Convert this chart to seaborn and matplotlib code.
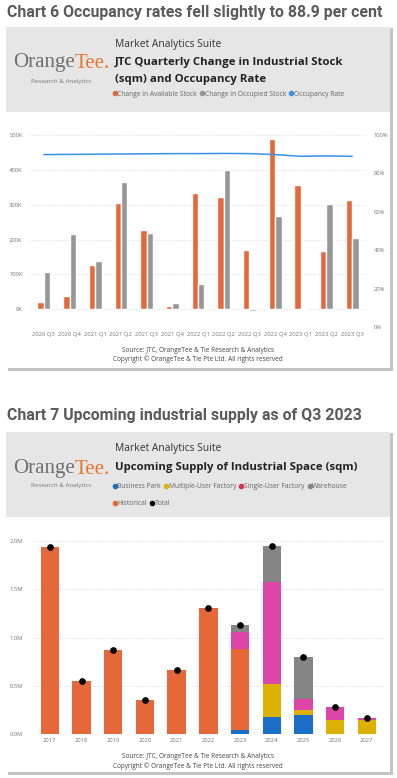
import numpy as np
import pandas as pd
import seaborn as sns
import matplotlib.pyplot as plt
from matplotlib.patches import Rectangle
from matplotlib.lines import Line2D
from matplotlib.ticker import FuncFormatter

# ---- Chart 6 data (sqm, thousands) ----
quarters = ['2020 Q3', '2020 Q4', '2021 Q1', '2021 Q2', '2021 Q3', '2021 Q4', '2022 Q1',
            '2022 Q2', '2022 Q3', '2022 Q4', '2023 Q1', '2023 Q2', '2023 Q3']
avail_k = [22, 38, 126, 304, 228, 10, 333, 322, 171, 487, 357, 167, 313]
occup_k = [108, 215, 139, 366, 220, 18, 72, 400, -6, 268, 4, 303, 204]
occ_rate = [89.8, 89.9, 90.0, 90.1, 90.2, 90.3, 90.3, 90.4, 90.3, 89.8, 88.9, 89.1, 88.9]

# ---- Chart 7 data (sqm, millions) ----
years = ['2017', '2018', '2019', '2020', '2021', '2022', '2023', '2024', '2025', '2026', '2027']
business_park = [0, 0, 0, 0, 0, 0, 0.04, 0.18, 0.20, 0, 0]
multi_user = [0, 0, 0, 0, 0, 0, 0, 0.34, 0.05, 0.145, 0.15]
historical = [1.94, 0.55, 0.87, 0.36, 0.67, 1.31, 0.84, 0, 0, 0, 0]
single_user = [0, 0, 0, 0, 0, 0, 0.18, 1.055, 0.12, 0.14, 0.02]
warehouse = [0, 0, 0, 0, 0, 0, 0.076, 0.37, 0.43, 0, 0]

ORANGE = '#E5683A'
GREY6 = '#979797'
BLUE_LINE = '#3B8FE8'
C_BP = '#1B6DC6'
C_MU = '#DDB100'
C_SU = '#DE45A8'
C_WH = '#858585'

sns.set_style('white')
plt.rcParams['font.family'] = ['Open Sans', 'DejaVu Sans']

W, H = 397, 778
fig = plt.figure(figsize=(W / 100, H / 100), dpi=100)
fig.patch.set_facecolor('white')


def fx(x):
    return x / W


def fy(y):
    return 1 - y / H


def card(top, head_bot, bot, left=6, right=390):
    fig.add_artist(Rectangle((fx(left + 2), fy(bot + 3)), fx(right - left + 1), fy(top + 1) - fy(bot + 3),
                             transform=fig.transFigure, facecolor='#c4c4c4', edgecolor='none', zorder=-10))
    fig.add_artist(Rectangle((fx(left), fy(bot)), fx(right - left), fy(top) - fy(bot),
                             transform=fig.transFigure, facecolor='white', edgecolor='none', zorder=-9))
    fig.add_artist(Rectangle((fx(left), fy(head_bot)), fx(right - left), fy(top) - fy(head_bot),
                             transform=fig.transFigure, facecolor='#e6e6e6', edgecolor='none', zorder=-8))


def logo(yc, yr):
    t1 = fig.text(fx(13), fy(yc), 'Orange', family=['Liberation Serif'], fontsize=15,
                  color='#707070', va='center', ha='left')
    fig.canvas.draw()
    bb = t1.get_window_extent()
    fig.text(bb.x1 / fig.bbox.width, fy(yc), 'Tee.', family=['Liberation Serif'], fontsize=15,
             color='#E8772E', va='center', ha='left')
    fig.text(fx(61), fy(yr), 'Research & Analytics', fontsize=4.5, color='#777777',
             va='center', ha='center')


def header_legend(handles, labels, y, ncol):
    fig.legend(handles, labels, loc='center left', bbox_to_anchor=(fx(113), fy(y)), ncol=ncol,
               frameon=False, fontsize=4.9, labelcolor='#666666', handlelength=0.5,
               handletextpad=0.15, columnspacing=0.5, borderpad=0, borderaxespad=0)


def style_axis(ax):
    ax.set_facecolor('none')
    sns.despine(ax=ax, left=True, bottom=True, right=True, top=True)
    ax.tick_params(length=0, labelsize=4.2, labelcolor='#777777')
    ax.set_xlabel('')
    ax.set_ylabel('')


def dot(c):
    return Line2D([], [], ls='none', marker='o', ms=3.0, color=c)


# ================= Chart 6 =================
fig.text(fx(7), fy(13), 'Chart 6 Occupancy rates fell slightly to 88.9 per cent', family=['Roboto'],
         fontweight='bold', fontsize=11.4, color='#5a5a5a', va='center', ha='left')
card(27, 112, 368)
logo(63, 81)
fig.text(fx(115), fy(44), 'Market Analytics Suite', fontsize=7.4, color='#333333', va='center')
fig.text(fx(115), fy(62.5), 'JTC Quarterly Change in Industrial Stock', fontsize=8.2,
         fontweight='bold', color='#222222', va='center')
fig.text(fx(115), fy(79.5), '(sqm) and Occupancy Rate', fontsize=8.2,
         fontweight='bold', color='#222222', va='center')
header_legend([dot(ORANGE), dot(GREY6), dot(BLUE_LINE)],
              ['Change in Available Stock', 'Change in Occupied Stock', 'Occupancy Rate'], 94, 3)

df6 = pd.DataFrame({'quarter': quarters * 2,
                    'value': [v * 1000 for v in avail_k] + [v * 1000 for v in occup_k],
                    'series': ['Change in Available Stock'] * len(quarters)
                              + ['Change in Occupied Stock'] * len(quarters)})
ax6 = fig.add_axes([fx(31), fy(327), fx(334), fy(130) - fy(327)])
sns.barplot(data=df6, x='quarter', y='value', hue='series', order=quarters,
            palette=[ORANGE, GREY6], width=0.5, gap=0, saturation=1, legend=False, ax=ax6)
ax6.set_ylim(-50800, 514000)
ax6.set_xlim(-0.5, len(quarters) - 0.5)
ax6.set_yticks([0, 100000, 200000, 300000, 400000, 500000])
ax6.yaxis.set_major_formatter(FuncFormatter(lambda v, p: f'{v / 1000:.0f}K'))
ax6.grid(axis='y', ls=(0, (1, 2)), color='#d0d0d0', lw=0.6)
ax6.set_axisbelow(True)
style_axis(ax6)
ax6.tick_params(axis='y', pad=6)
ax6.tick_params(axis='x', pad=3.5)

ax6b = ax6.twinx()
sns.lineplot(x=np.arange(len(quarters)), y=occ_rate, color=BLUE_LINE, lw=1.1, ax=ax6b)
ax6b.set_ylim(0, 102.6)
ax6b.set_yticks([0, 20, 40, 60, 80, 100])
ax6b.yaxis.set_major_formatter(FuncFormatter(lambda v, p: f'{v:.0f}%'))
style_axis(ax6b)
ax6b.tick_params(axis='y', pad=6)
ax6b.set_xlim(-0.5, len(quarters) - 0.5)

fig.text(fx(198), fy(350), 'Source: JTC, OrangeTee & Tie Research & Analytics', fontsize=4.7,
         color='#444444', ha='center', va='center')
fig.text(fx(198), fy(359.5), 'Copyright \u00a9 OrangeTee & Tie Pte Ltd. All rights reserved', fontsize=4.7,
         color='#444444', ha='center', va='center')

# ================= Chart 7 =================
fig.text(fx(7), fy(416), 'Chart 7 Upcoming industrial supply as of Q3 2023', family=['Roboto'],
         fontweight='bold', fontsize=11.4, color='#5a5a5a', va='center', ha='left')
card(432, 517, 772)
logo(469, 486)
fig.text(fx(115), fy(449), 'Market Analytics Suite', fontsize=7.4, color='#333333', va='center')
fig.text(fx(115), fy(468), 'Upcoming Supply of Industrial Space (sqm)', fontsize=8.2,
         fontweight='bold', color='#222222', va='center')
header_legend([dot(C_BP), dot(C_MU), dot('#D9304F'), dot(C_WH)],
              ['Business Park', 'Multiple-User Factory', 'Single-User Factory', 'Warehouse'], 486.5, 4)
header_legend([dot(ORANGE), dot('black')], ['Historical', 'Total'], 504, 2)

ax7 = fig.add_axes([fx(34), fy(734.3), fx(348.7), fy(535.2) - fy(734.3)])
stack = [(business_park, C_BP), (multi_user, C_MU), (historical, ORANGE),
         (single_user, C_SU), (warehouse, C_WH)]
cum = np.cumsum([s for s, _ in stack], axis=0)
total = cum[-1]
for i in range(len(stack) - 1, -1, -1):
    sns.barplot(x=years, y=cum[i] * 1e6, color=stack[i][1], saturation=1, width=0.58,
                edgecolor='none', ax=ax7)
sns.pointplot(x=years, y=total * 1e6, color='black', linestyle='none', marker='o',
              markersize=2.8, errorbar=None, ax=ax7)
ax7.set_ylim(0, 2.06e6)
ax7.set_xlim(-0.5, len(years) - 0.5)
ax7.set_yticks([0, 0.5e6, 1.0e6, 1.5e6, 2.0e6])
ax7.yaxis.set_major_formatter(FuncFormatter(lambda v, p: f'{v / 1e6:.1f}M'))
ax7.grid(axis='y', ls=(0, (1, 2)), color='#d0d0d0', lw=0.6)
ax7.set_axisbelow(True)
style_axis(ax7)
ax7.tick_params(axis='y', pad=8)
ax7.tick_params(axis='x', pad=3)

fig.text(fx(198), fy(757), 'Source: JTC, OrangeTee & Tie Research & Analytics', fontsize=4.7,
         color='#444444', ha='center', va='center')
fig.text(fx(198), fy(766.5), 'Copyright \u00a9 OrangeTee & Tie Pte Ltd. All rights reserved', fontsize=4.7,
         color='#444444', ha='center', va='center')

fig.savefig('out.png', dpi=100, facecolor='white')
